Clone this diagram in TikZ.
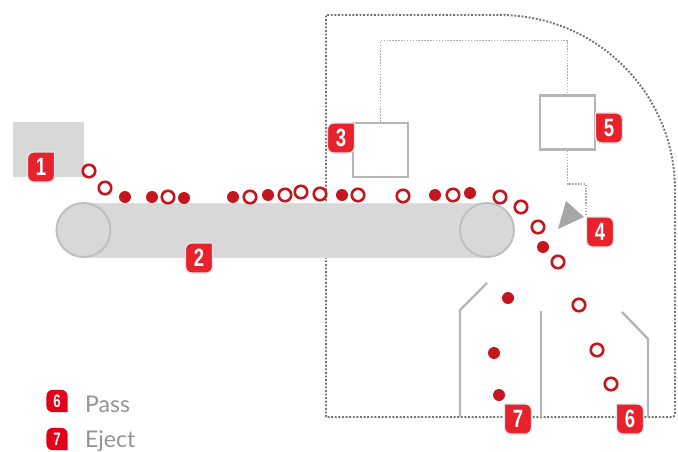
\documentclass[tikz,border=0pt]{standalone}
\usepackage{fontspec}
\setmainfont{Lato}
\newfontfamily\tagfont{Liberation Sans}
\usetikzlibrary{positioning}

\definecolor{tagred}{HTML}{E8222C}
\definecolor{legendred}{HTML}{E2001A}
\definecolor{ballred}{HTML}{C4161C}
\definecolor{beltgray}{HTML}{D8D8D8}
\definecolor{rimgray}{HTML}{BFBFBF}
\definecolor{wallgray}{HTML}{B5B5B5}

% badge with one square corner, flip keys choose which corner
\newcommand{\tagbox}[5][bigtag]{
    \begin{scope}[shift={(#3)},#4]
        \path[tagshape] (0,-15) [sharp corners] -- (13.5,-15) [rounded corners=6] -- (13.5,15)
            -- (-13.5,15) -- (-13.5,-15) -- cycle;
    \end{scope}
    \node[tagtext,#1] (#2) at (#3) {\scalebox{.74}[1]{#5}};
}

\begin{document}
\begin{tikzpicture}
    [x=1pt,y=-1pt,
    every node/.style={inner sep=0pt},
    bigtag/.style={font=\tagfont\bfseries\fontsize{25}{25}\selectfont},
    smalltag/.style={font=\tagfont\bfseries\fontsize{18}{18}\selectfont},
    tagshape/.style={fill=tagred,draw=black!10,line width=1.4pt},
    tagtext/.style={text=white},
    solidball/.style={circle,fill=ballred,minimum size=12pt},
    openball/.style={circle,draw=ballred,fill=white,line width=2.6pt,minimum size=12.5pt},
    sensor/.style={draw=wallgray,line width=2.8pt,fill=white,minimum width=55pt,minimum height=54pt},
    roller/.style={circle,draw=rimgray,fill=beltgray,line width=2pt,minimum size=54pt},
    wall/.style={draw=wallgray,line width=2.4pt},
    frameline/.style={draw=black!55,line width=1.9pt,dash pattern=on 1.9pt off 1.7pt},
    signal/.style={draw=black!32,line width=1.5pt,dash pattern=on 1.5pt off 1.4pt},
    legendtext/.style={anchor=base west,text=black!42,font=\fontsize{23}{23}\selectfont}]

    \useasboundingbox (0,0) rectangle (678,452);

    % frame
    \coordinate (frametop) at (326,15);
    \coordinate (framebottom) at (326,417);
    \draw[frameline] (framebottom) -- (frametop) -- (500,15)
        arc[start angle=90,end angle=0,radius=175pt] -- (675,412)
        [rounded corners=3pt] -- (675,417) -- (framebottom);

    % hopper and belt
    \node[fill=beltgray,minimum width=71pt,minimum height=55pt] (hopper) at (48.5,149.5) {};
    \node[fill=beltgray,draw=black!12,line width=.5pt,minimum width=403pt,minimum height=54pt] (belt) at (285,230) {};
    \node[roller] (rollerA) at (83.5,230) {};
    \node[roller] (rollerB) at (487,230) {};

    % sensors and wires
    \node[sensor] (camera) at (380.5,150) {};
    \node[sensor] (valve) at (567.5,122.5) {};
    \coordinate (nozzletip) at (586,215);
    \draw[signal] (camera.north) -- ++(0,-81) -| (valve.north);
    \draw[signal] (valve.south) -- ++(0,33) -| (nozzletip);
    \fill[black!35] (566,201) -- (584,217) -- (558,229) -- cycle;

    % chutes
    \coordinate (chuteA) at (487,283);
    \coordinate (chuteB) at (541,311);
    \coordinate (chuteC) at (622,312);
    \draw[wall] (chuteA) -- (460,310) -- (460,417);
    \draw[wall] (chuteB) -- (541,417);
    \draw[wall] (chuteC) -- (648,339) -- (648,417);

    % product stream
    \foreach \px/\py [count=\i] in {125/197,152/197,184/198,233/197,268/195,342/195,435/195,470/193,543/247,508/298,494/353,499/395}
        \node[solidball] (solid\i) at (\px,\py) {};
    \foreach \px/\py [count=\i] in {89/171,105/188,168/197,250/197,285/195,301/192,320/194,358/195,403/196,453/195,500/197,521/207,538/227,558/262,579/305,597/350,611/384}
        \node[openball] (open\i) at (\px,\py) {};

    % badges
    \tagbox{tagA}{41,167}{xscale=1}{1}
    \tagbox{tagB}{199,258}{xscale=1}{2}
    \tagbox{tagC}{341,138}{xscale=1}{3}
    \tagbox{tagD}{600,232}{xscale=-1}{4}
    \tagbox{tagE}{609,128}{xscale=-1}{5}
    \tagbox{tagF}{630,419}{xscale=-1}{6}
    \tagbox{tagG}{518,419}{xscale=-1}{7}

    % legend
    \tikzset{tagshape/.append style={fill=legendred,draw=none}}
    \tagbox[smalltag]{keyF}{57,401}{xscale=.78,yscale=-.74}{6}
    \tagbox[smalltag]{keyG}{57,439}{xscale=.78,yscale=-.74}{7}
    \node[legendtext] (pass) at (85,412) {Pass};
    \node[legendtext] (eject) at (85,447.5) {Eject};
\end{tikzpicture}
\end{document}
